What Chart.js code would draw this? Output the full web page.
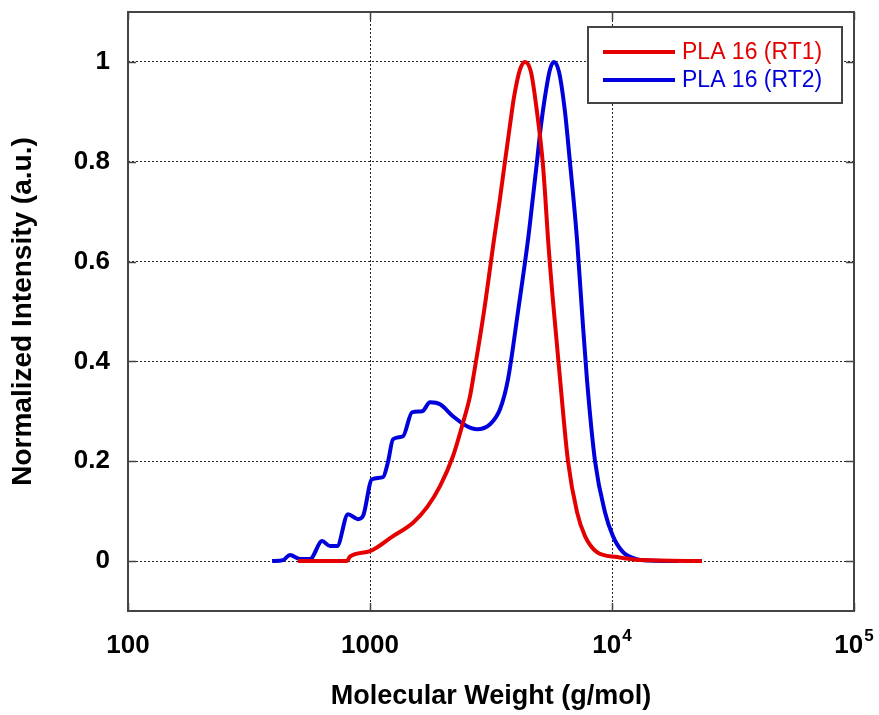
<!DOCTYPE html>
<html>
<head>
<meta charset="utf-8">
<script src="https://cdn.jsdelivr.net/npm/chart.js@4.4.0/dist/chart.umd.min.js"></script>
<style>
  html, body { margin: 0; padding: 0; background: #fff; }
</style>
</head>
<body>
<canvas id="gpcChart" width="879" height="715"></canvas>
<script>
// Molecular weight (g/mol) and normalized intensity
const mwRT1 = [504, 804, 826, 1000, 1245, 1506, 1722, 1947, 2202, 2422, 2589, 2664, 2958, 3254, 3430, 3611, 3780, 3938, 4169, 4369, 4625, 4898, 5171, 5300, 5442, 5706, 6101, 6580, 7169, 7734, 8665, 10490, 13060, 23550];
const intRT1 = [0, 0, 0.009, 0.02, 0.05, 0.077, 0.108, 0.15, 0.21, 0.277, 0.33, 0.364, 0.5, 0.644, 0.72, 0.8, 0.87, 0.93, 0.985, 1.0, 0.98, 0.9, 0.8, 0.73, 0.644, 0.52, 0.364, 0.2, 0.098, 0.05, 0.018, 0.008, 0.002, 0];

const mwRT2 = [394, 437, 467, 514, 565, 634, 684, 731, 811, 892, 935, 1019, 1131, 1186, 1245, 1369, 1492, 1641, 1771, 1947, 2202, 2518, 2768, 3133, 3445, 3717, 4089, 4498, 4690, 4898, 5080, 5284, 5543, 5755, 6040, 6393, 6700, 6920, 7169, 7516, 7880, 8510, 9354, 10090, 11100, 12440, 14350, 18760];
const intRT2 = [0, 0.002, 0.012, 0.004, 0.004, 0.04, 0.03, 0.03, 0.094, 0.084, 0.09, 0.164, 0.168, 0.198, 0.244, 0.25, 0.298, 0.3, 0.318, 0.314, 0.29, 0.27, 0.264, 0.274, 0.304, 0.364, 0.5, 0.644, 0.72, 0.8, 0.87, 0.93, 0.985, 1.0, 0.98, 0.9, 0.8, 0.73, 0.644, 0.5, 0.364, 0.2, 0.098, 0.05, 0.018, 0.005, 0.001, 0];

const seriesNames = ['PLA 16 (RT1)', 'PLA 16 (RT2)'];
const seriesColors = ['rgb(228,0,0)', 'rgb(0,0,220)'];

// x tick labels: base and exponent (exponent empty for plain numbers)
const xTickVals = [100, 1000, 10000, 100000];
const xTickBase = ['100', '1000', '10', '10'];
const xTickExp = ['', '', '4', '5'];
const yTickVals = [0, 0.2, 0.4, 0.6, 0.8, 1];
const yTickLabels = ['0', '0.2', '0.4', '0.6', '0.8', '1'];

const FONT = '"Liberation Sans", Arial, sans-serif';

function toPoints(xs, ys) {
    return xs.map((x, i) => ({ x: x, y: ys[i] }));
}

// frame around the plot with short inward ticks on all four sides
const framePlugin = {
    id: 'frame',
    afterDatasetsDraw(chart) {
        const { ctx, chartArea: a, scales } = chart;
        ctx.save();
        ctx.strokeStyle = '#444';
        ctx.lineWidth = 2;
        ctx.strokeRect(a.left, a.top, a.right - a.left, a.bottom - a.top);
        ctx.lineWidth = 1.5;
        ctx.beginPath();
        yTickVals.forEach(v => {
            const y = Math.round(scales.y.getPixelForValue(v)) + 0.5;
            ctx.moveTo(a.left, y); ctx.lineTo(a.left + 8, y);
            ctx.moveTo(a.right, y); ctx.lineTo(a.right - 8, y);
        });
        xTickVals.forEach(v => {
            const x = Math.round(scales.x.getPixelForValue(v)) + 0.5;
            ctx.moveTo(x, a.bottom); ctx.lineTo(x, a.bottom - 8);
            ctx.moveTo(x, a.top); ctx.lineTo(x, a.top + 8);
        });
        ctx.stroke();

        // x tick labels with raised exponents
        ctx.fillStyle = '#000';
        ctx.textBaseline = 'alphabetic';
        xTickVals.forEach((v, i) => {
            const x = scales.x.getPixelForValue(v);
            ctx.font = 'bold 26px ' + FONT;
            const wb = ctx.measureText(xTickBase[i]).width;
            ctx.font = 'bold 17px ' + FONT;
            const we = xTickExp[i] ? ctx.measureText(xTickExp[i]).width + 1 : 0;
            const x0 = x - (wb + we) / 2;
            ctx.font = 'bold 26px ' + FONT;
            ctx.fillText(xTickBase[i], x0, a.bottom + 42);
            if (xTickExp[i]) {
                ctx.font = 'bold 17px ' + FONT;
                ctx.fillText(xTickExp[i], x0 + wb + 1, a.bottom + 30);
            }
        });
        ctx.restore();
    }
};

// boxed legend in the upper right corner of the plot
const legendBoxPlugin = {
    id: 'legendBox',
    afterDraw(chart) {
        const ctx = chart.ctx;
        const bx = 588, by = 27, bw = 254, bh = 76;
        ctx.save();
        ctx.fillStyle = '#fff';
        ctx.fillRect(bx, by, bw, bh);
        ctx.strokeStyle = '#444';
        ctx.lineWidth = 2;
        ctx.strokeRect(bx, by, bw, bh);
        chart.data.datasets.forEach((ds, i) => {
            const y = by + 25 + i * 28;
            ctx.strokeStyle = ds.borderColor;
            ctx.lineWidth = 4;
            ctx.beginPath();
            ctx.moveTo(bx + 15, y);
            ctx.lineTo(bx + 87, y);
            ctx.stroke();
            ctx.fillStyle = ds.borderColor;
            ctx.font = '23px ' + FONT;
            ctx.textBaseline = 'middle';
            ctx.fillText(ds.label, bx + 94, y + 1);
        });
        ctx.restore();
    }
};

const chart = new Chart(document.getElementById('gpcChart'), {
    type: 'line',
    data: {
        datasets: [
            { label: seriesNames[0], data: toPoints(mwRT1, intRT1), borderColor: seriesColors[0] },
            { label: seriesNames[1], data: toPoints(mwRT2, intRT2), borderColor: seriesColors[1] }
        ]
    },
    options: {
        responsive: false,
        animation: false,
        events: [],
        layout: { padding: { left: 0, right: 25, top: 12, bottom: 0 } },
        elements: {
            line: { borderWidth: 4, cubicInterpolationMode: 'monotone', fill: false },
            point: { radius: 0 }
        },
        plugins: {
            legend: { display: false },
            tooltip: { enabled: false }
        },
        scales: {
            x: {
                type: 'logarithmic',
                min: 100,
                max: 100000,
                afterBuildTicks: s => { s.ticks = xTickVals.map(v => ({ value: v })); },
                afterFit: s => {
                    s.height = 104;
                    s.paddingLeft = 0; s.paddingRight = 0;
                },
                grid: { color: '#222', lineWidth: 1, drawTicks: false },
                border: { display: false, dash: [2, 2] },
                ticks: { display: false },
                title: {
                    display: true,
                    text: 'Molecular Weight (g/mol)',
                    color: '#000',
                    font: { family: FONT, size: 27, weight: 'bold' },
                    padding: { top: 0, bottom: 2 }
                }
            },
            y: {
                min: -0.1,
                max: 1.1,
                afterBuildTicks: s => { s.ticks = yTickVals.map(v => ({ value: v })); },
                afterFit: s => {
                    s.width = 128;
                    s.paddingTop = 0; s.paddingBottom = 0;
                },
                grid: { color: '#222', lineWidth: 1, drawTicks: false },
                border: { display: false, dash: [2, 2] },
                ticks: {
                    padding: 18,
                    color: '#000',
                    font: { family: FONT, size: 26, weight: 'bold' },
                    callback: v => yTickLabels[yTickVals.indexOf(v)]
                },
                title: {
                    display: true,
                    text: 'Normalized Intensity (a.u.)',
                    color: '#000',
                    font: { family: FONT, size: 28, weight: 'bold' },
                    padding: { top: 6, bottom: 0 }
                }
            }
        }
    },
    plugins: [framePlugin, legendBoxPlugin]
});
</script>
</body>
</html>
